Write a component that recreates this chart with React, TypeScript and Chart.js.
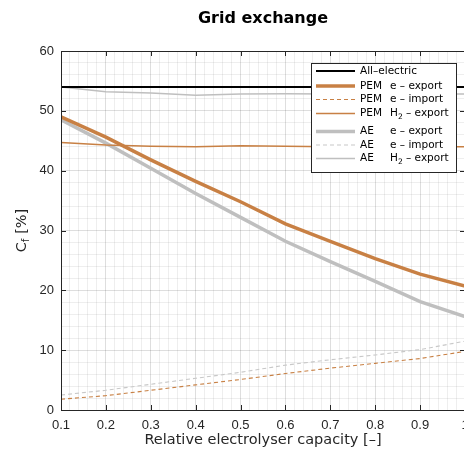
import React, { useEffect, useRef } from "react";
import { Chart, registerables } from "chart.js";

Chart.register(...registerables);

// ---- data ----
const capacity = [0.1, 0.2, 0.3, 0.4, 0.5, 0.6, 0.7, 0.8, 0.9, 1.0];
const allElectric = [54, 54, 54, 54, 54, 54, 54, 54, 54, 54];
const pemExport = [49.0, 45.6, 41.8, 38.2, 34.8, 31.1, 28.2, 25.3, 22.7, 20.7];
const pemImport = [1.8, 2.4, 3.3, 4.2, 5.1, 6.1, 7.0, 7.8, 8.6, 9.8];
const pemH2Export = [44.7, 44.3, 44.1, 44.0, 44.15, 44.1, 44.0, 44.0, 44.0, 44.0];
const aeExport = [48.5, 44.6, 40.4, 36.2, 32.2, 28.2, 24.8, 21.5, 18.1, 15.6];
const aeImport = [2.5, 3.3, 4.3, 5.3, 6.3, 7.5, 8.4, 9.2, 10.1, 11.5];
const aeH2Export = [54.0, 53.2, 53.0, 52.6, 52.8, 52.85, 52.8, 52.8, 52.8, 52.8];

const legendCol1 = ["All\u2013electric", "PEM", "PEM", "PEM", "AE", "AE", "AE"];
const legendCol2 = ["", "e \u2013 export", "e \u2013 import", "H_2 \u2013 export", "e \u2013 export", "e \u2013 import", "H_2 \u2013 export"];

const titleText = "Grid exchange";
const xTitle = "Relative electrolyser capacity [\u2013]";
const yTitle = "C_f [%]";

const X_MIN = 0.1, X_MAX = 1.0, X_MINOR = 0.02, X_MAJOR = 0.1;
const Y_MIN = 0, Y_MAX = 60, Y_MINOR = 2, Y_MAJOR = 10;

// ---- styles ----
const ORANGE = "rgb(200,128,68)";
const GRAY = "rgb(191,191,191)";
const LIGHTGRAY = "rgb(200,200,200)";
const AXIS = "#262626";
const SANS = '"DejaVu Sans"';

const isMajor = (v: number, unit: number) => Math.abs(v / unit - Math.round(v / unit)) < 1e-6;

function makeTicks(min: number, max: number, step: number) {
  const out: { value: number }[] = [];
  const n = Math.round((max - min) / step);
  for (let i = 0; i <= n; i++) out.push({ value: Math.round((min + i * step) * 10000) / 10000 });
  return out;
}

function parseRich(text: string) {
  const segs: { t: string; sub: boolean }[] = [];
  for (let i = 0; i < text.length; i++) {
    if (text[i] === "_" && i + 1 < text.length) {
      segs.push({ t: text[i + 1], sub: true });
      i++;
    } else if (segs.length && !segs[segs.length - 1].sub) {
      segs[segs.length - 1].t += text[i];
    } else {
      segs.push({ t: text[i], sub: false });
    }
  }
  return segs;
}

function drawRich(ctx: CanvasRenderingContext2D, text: string, x: number, y: number, size: number, align: "left" | "center", weight = "normal") {
  const segs = parseRich(text);
  const font = (s: number) => `${weight} ${s}px ${SANS}`;
  let total = 0;
  for (const s of segs) {
    ctx.font = font(s.sub ? size * 0.72 : size);
    total += ctx.measureText(s.t).width;
  }
  let cx = align === "center" ? x - total / 2 : x;
  ctx.textAlign = "left";
  ctx.textBaseline = "middle";
  for (const s of segs) {
    ctx.font = font(s.sub ? size * 0.72 : size);
    ctx.fillText(s.t, cx, s.sub ? y + size * 0.32 : y);
    cx += ctx.measureText(s.t).width;
  }
}

const decorPlugin = {
  id: "decor",
  afterDraw(chart: any) {
    const ctx: CanvasRenderingContext2D = chart.ctx;
    const { left, right, top, bottom } = chart.chartArea;
    const xs = chart.scales.x;
    const ys = chart.scales.y;
    ctx.save();

    // frame
    ctx.strokeStyle = AXIS;
    ctx.lineWidth = 1;
    ctx.strokeRect(Math.round(left) + 0.5, Math.round(top) + 0.5, Math.round(right - left), Math.round(bottom - top));

    // inward major ticks
    ctx.beginPath();
    for (const t of makeTicks(X_MIN, X_MAX, X_MAJOR)) {
      const px = Math.round(xs.getPixelForValue(t.value)) + 0.5;
      ctx.moveTo(px, bottom); ctx.lineTo(px, bottom - 5);
      ctx.moveTo(px, top); ctx.lineTo(px, top + 5);
    }
    for (const t of makeTicks(Y_MIN, Y_MAX, Y_MAJOR)) {
      const py = Math.round(ys.getPixelForValue(t.value)) + 0.5;
      ctx.moveTo(left, py); ctx.lineTo(left + 5, py);
      ctx.moveTo(right, py); ctx.lineTo(right - 5, py);
    }
    ctx.stroke();

    // titles
    ctx.fillStyle = "#000";
    drawRich(ctx, titleText, (left + right) / 2, 19, 16, "center", "bold");
    ctx.fillStyle = AXIS;
    drawRich(ctx, xTitle, (left + right) / 2, 440, 14.5, "center");
    ctx.save();
    ctx.translate(22, (top + bottom) / 2);
    ctx.rotate(-Math.PI / 2);
    drawRich(ctx, yTitle, 0, 0, 14.5, "center");
    ctx.restore();

    // legend
    const lx = 311, ly = 63, lw = 145, lh = 109;
    ctx.fillStyle = "#fff";
    ctx.fillRect(lx, ly, lw, lh);
    ctx.strokeStyle = AXIS;
    ctx.lineWidth = 1;
    ctx.strokeRect(lx + 0.5, ly + 0.5, lw, lh);
    const rowY = [71, 86, 99.5, 113.5, 131.5, 145, 158.5];
    chart.data.datasets.forEach((ds: any, i: number) => {
      const y = rowY[i];
      ctx.save();
      ctx.strokeStyle = ds.borderColor;
      ctx.lineWidth = ds.borderWidth;
      ctx.setLineDash(ds.borderDash || []);
      ctx.beginPath();
      ctx.moveTo(316, y);
      ctx.lineTo(355, y);
      ctx.stroke();
      ctx.restore();
      ctx.fillStyle = "#000";
      drawRich(ctx, legendCol1[i], 360, y, 10.5, "left");
      if (legendCol2[i]) drawRich(ctx, legendCol2[i], 390, y, 10.5, "left");
    });

    ctx.restore();
  },
};

export default function App() {
  const ref = useRef<HTMLCanvasElement>(null);
  useEffect(() => {
    const mk = (label: string, data: number[], color: string, width: number, dash?: number[]) => ({
      label,
      data: capacity.map((x, i) => ({ x, y: data[i] })),
      borderColor: color,
      backgroundColor: color,
      borderWidth: width,
      borderDash: dash,
      pointRadius: 0,
      tension: 0,
      fill: false,
    });
    const chart = new Chart(ref.current!, {
      type: "line",
      data: {
        datasets: [
          mk("All-electric", allElectric, "#000", 2),
          mk("PEM e - export", pemExport, ORANGE, 3.5),
          mk("PEM e - import", pemImport, ORANGE, 1.1, [4, 3]),
          mk("PEM H2 - export", pemH2Export, ORANGE, 1.5),
          mk("AE e - export", aeExport, GRAY, 3.5),
          mk("AE e - import", aeImport, LIGHTGRAY, 1.1, [4, 3]),
          mk("AE H2 - export", aeH2Export, GRAY, 1.5),
        ] as any,
      },
      options: {
        animation: false,
        responsive: false,
        devicePixelRatio: 1,
        layout: { padding: { top: 51, right: 5, left: 0, bottom: 0 } },
        plugins: { legend: { display: false }, tooltip: { enabled: false }, title: { display: false } },
        scales: {
          x: {
            type: "linear",
            min: X_MIN,
            max: X_MAX,
            afterBuildTicks: (s: any) => { s.ticks = makeTicks(X_MIN, X_MAX, X_MINOR); },
            afterFit: (s: any) => { s.height = 43; s.paddingLeft = 0; s.paddingRight = 0; },
            border: { display: false },
            grid: {
              drawTicks: false,
              color: (c: any) => (c.tick && isMajor(c.tick.value, X_MAJOR) ? "rgba(0,0,0,0.13)" : "rgba(0,0,0,0.065)"),
              lineWidth: 1,
            },
            ticks: {
              autoSkip: false,
              maxRotation: 0,
              padding: 8,
              color: AXIS,
              font: { family: "Liberation Sans", size: 13 },
              callback: (v: any) => (isMajor(Number(v), X_MAJOR) ? String(Math.round(Number(v) * 10) / 10) : ""),
            },
          },
          y: {
            type: "linear",
            min: Y_MIN,
            max: Y_MAX,
            afterBuildTicks: (s: any) => { s.ticks = makeTicks(Y_MIN, Y_MAX, Y_MINOR); },
            afterFit: (s: any) => { s.width = 61; s.paddingTop = 0; s.paddingBottom = 0; },
            border: { display: false },
            grid: {
              drawTicks: false,
              color: (c: any) => (c.tick && isMajor(c.tick.value, Y_MAJOR) ? "rgba(0,0,0,0.13)" : "rgba(0,0,0,0.065)"),
              lineWidth: 1,
            },
            ticks: {
              autoSkip: false,
              padding: 7,
              color: AXIS,
              font: { family: "Liberation Sans", size: 13 },
              callback: (v: any) => (isMajor(Number(v), Y_MAJOR) ? String(Math.round(Number(v))) : ""),
            },
          },
        },
      } as any,
      plugins: [decorPlugin],
    });
    return () => chart.destroy();
  }, []);
  return (
    <div style={{ position: "fixed", left: 0, top: 0, width: 464, height: 453, overflow: "hidden", background: "#fff" }}>
      <canvas ref={ref} width={470} height={453} style={{ display: "block", width: 470, height: 453 }} />
    </div>
  );
}
